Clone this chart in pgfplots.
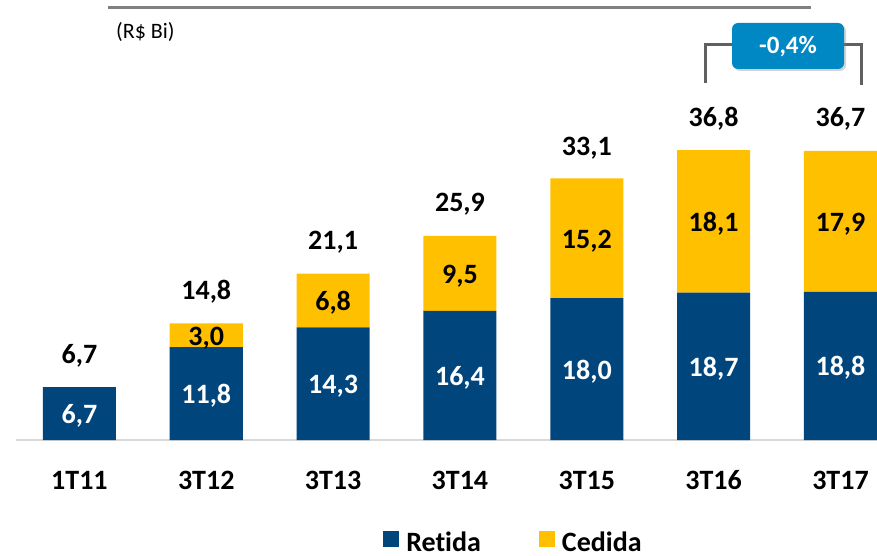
\documentclass[border=0pt]{standalone}
\usepackage{pgfplots}
\pgfplotsset{compat=1.18}
\usepackage{pgfplotstable}
\usepackage{fontspec}
\setmainfont[Ligatures=NoCommon]{Carlito}
\usetikzlibrary{shadows}
\definecolor{navy}{RGB}{0,69,124}
\definecolor{gold}{RGB}{255,192,0}
\definecolor{boxblue}{RGB}{0,136,196}
\definecolor{brk}{RGB}{96,96,96}
\tikzset{
  seg/.style={anchor=base, font=\bfseries\fontsize{28}{30}\selectfont, yshift=-10pt},
  tot/.style={anchor=base, font=\bfseries\fontsize{28}{30}\selectfont, yshift=24pt},
}
\pgfplotstableread{
x ret ced
0 6.7 0
1 11.8 3.0
2 14.3 6.8
3 16.4 9.5
4 18.0 15.2
5 18.7 18.1
6 18.8 17.9
}\datatab
\begin{document}
\begin{tikzpicture}
\begin{axis}[
  scale only axis, width=861pt, height=440pt,
  xmin=-0.5, xmax=6.288, ymin=0, ymax=55.84,
  ybar stacked, bar width=0.576,
  axis y line=none, axis x line*=bottom,
  x axis line style={draw=black!15, line width=1.5pt, -},
  xtick={0,...,6}, xticklabels={1T11,3T12,3T13,3T14,3T15,3T16,3T17},
  major tick length=0pt,
  xticklabel style={anchor=base, yshift=-49pt, font=\bfseries\fontsize{28}{30}\selectfont},
  clip=false,
  legend style={at={(0.4263,-0.2318)}, anchor=west, draw=none, fill=none, inner sep=0pt,
    font=\bfseries\fontsize{28}{30}\selectfont,
    /tikz/every even column/.append style={column sep=51pt},
    nodes={inner xsep=7pt, inner ysep=0pt}},
  legend columns=2,
  legend image code/.code={\fill[#1] (0pt,-5pt) rectangle (16pt,11pt);},
]
\addplot[fill=navy, draw=none] table[x=x, y=ret] {\datatab};
\addplot[fill=gold, draw=none] table[x=x, y=ced] {\datatab};
\legend{Retida, Cedida}
\coordinate (r0) at (axis cs:0,3.35);
\coordinate (r1) at (axis cs:1,5.9);
\coordinate (r2) at (axis cs:2,7.15);
\coordinate (r3) at (axis cs:3,8.2);
\coordinate (r4) at (axis cs:4,9.0);
\coordinate (r5) at (axis cs:5,9.35);
\coordinate (r6) at (axis cs:6,9.4);
\coordinate (c1) at (axis cs:1,13.3);
\coordinate (c2) at (axis cs:2,17.7);
\coordinate (c3) at (axis cs:3,21.15);
\coordinate (c4) at (axis cs:4,25.6);
\coordinate (c5) at (axis cs:5,27.75);
\coordinate (c6) at (axis cs:6,27.75);
\node[tot] at (axis cs:0,6.7) {6,7};
\node[tot] at (axis cs:1,14.8) {14,8};
\node[tot] at (axis cs:2,21.1) {21,1};
\node[tot] at (axis cs:3,25.9) {25,9};
\node[tot] at (axis cs:4,33.1) {33,1};
\node[tot] at (axis cs:5,36.8) {36,8};
\node[tot] at (axis cs:6,36.7) {36,7};
\end{axis}
\node[seg, white] at (r0) {6,7};
\node[seg, white] at (r1) {11,8};
\node[seg, white] at (r2) {14,3};
\node[seg, white] at (r3) {16,4};
\node[seg, white] at (r4) {18,0};
\node[seg, white] at (r5) {18,7};
\node[seg, white] at (r6) {18,8};
\node[seg, black] at (c1) {3,0};
\node[seg, black] at (c2) {6,8};
\node[seg, black] at (c3) {9,5};
\node[seg, black] at (c4) {15,2};
\node[seg, black] at (c5) {18,1};
\node[seg, black] at (c6) {17,9};
\draw[black!50, line width=3pt] (92pt,432pt) -- (795pt,432pt);
\node[anchor=base west, inner sep=0pt, font=\fontsize{22}{24}\selectfont] at (100pt,401pt) {(R\$ Bi)};
\draw[brk, line width=3pt] (689pt,357pt) -- (689pt,395pt) -- (716pt,395pt);
\draw[brk, line width=3pt] (828pt,395pt) -- (845pt,395pt) -- (845pt,355pt);
\fill[boxblue, rounded corners=6pt, drop shadow={opacity=0.35, shadow xshift=2pt, shadow yshift=-2pt}] (716pt,371pt) rectangle (828pt,417pt);
\node[white, font=\bfseries\fontsize{25}{27}\selectfont] at (772pt,393pt) {-0,4\%};
\pgfresetboundingbox
\useasboundingbox (-16pt,-116pt) rectangle (861pt,440pt);
\end{tikzpicture}
\end{document}
